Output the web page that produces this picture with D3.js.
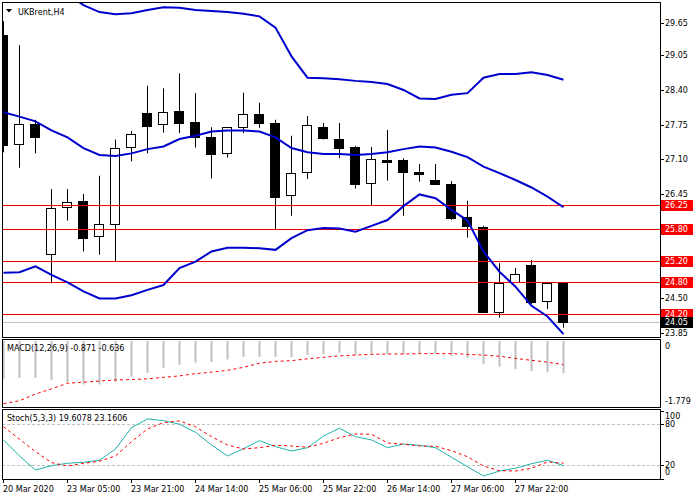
<!DOCTYPE html>
<html><head><meta charset="utf-8">
<script src="https://cdn.jsdelivr.net/npm/d3@7/dist/d3.min.js"></script>
<style>
body{margin:0;background:#fff;}
text{font-family:"DejaVu Sans",sans-serif;font-size:8px;}
</style>
</head><body>
<svg id="c" width="700" height="500"></svg>
<script>
// ---------- DATA ----------
const title = "UKBrent,H4";
const xLabels = ["20 Mar 2020","23 Mar 05:00","23 Mar 21:00","24 Mar 14:00","25 Mar 06:00","25 Mar 22:00","26 Mar 14:00","27 Mar 06:00","27 Mar 22:00"];
const openP  = [29.43,27.38,27.76,25.32,26.20,26.32,25.66,25.88,27.33,27.96,27.76,28.01,27.79,27.52,27.21,27.71,27.95,27.78,26.42,26.86,27.70,27.48,27.33,26.65,27.08,27.08,26.86,26.71,26.63,26.01,25.83,24.23,24.79,25.11,24.45,24.77];
const highP  = [29.69,29.24,27.84,26.54,26.54,26.45,26.79,27.47,27.63,28.48,28.43,28.71,28.34,27.70,27.70,28.35,28.16,27.84,27.54,27.91,27.78,27.78,27.35,27.33,27.65,27.12,27.01,27.01,26.69,26.32,25.85,25.15,25.06,25.21,24.77,24.79];
const lowP   = [27.23,26.94,27.21,24.77,25.95,25.37,25.31,25.19,27.06,27.21,27.60,27.59,27.32,26.74,27.13,27.59,27.69,25.79,26.04,26.73,27.47,27.12,26.55,26.24,26.70,26.04,26.68,26.64,25.96,25.63,24.22,24.13,24.78,24.38,24.29,23.94];
const closeP = [27.36,27.76,27.52,26.18,26.29,25.63,25.88,27.31,27.57,27.73,27.98,27.78,27.52,27.19,27.70,27.94,27.78,26.40,26.84,27.74,27.49,27.32,26.64,27.10,27.05,26.86,26.83,26.64,25.99,25.84,24.24,24.77,24.94,24.43,24.77,24.05];
const bbUpper  = [30.99,30.82,30.53,30.35,30.20,29.99,29.86,29.82,29.84,29.90,29.95,29.94,29.90,29.88,29.86,29.83,29.78,29.57,29.03,28.63,28.62,28.60,28.57,28.55,28.51,28.40,28.24,28.23,28.31,28.34,28.63,28.70,28.70,28.73,28.68,28.59];
const bbMiddle = [27.98,27.90,27.81,27.64,27.51,27.31,27.18,27.16,27.21,27.29,27.34,27.48,27.54,27.62,27.64,27.64,27.62,27.51,27.31,27.23,27.20,27.20,27.18,27.20,27.23,27.29,27.34,27.32,27.24,27.14,26.96,26.84,26.71,26.57,26.40,26.20];
const bbLower  = [24.97,24.98,25.09,24.93,24.79,24.62,24.49,24.49,24.55,24.65,24.74,25.06,25.18,25.37,25.44,25.44,25.43,25.40,25.62,25.77,25.81,25.80,25.74,25.85,25.96,26.22,26.44,26.37,26.15,25.95,25.37,24.99,24.71,24.35,24.15,23.82];
const priceTicks = [29.65,29.05,28.40,27.75,27.10,26.45,25.80,25.15,24.50,23.85];
const levelLines = [26.25,25.80,25.20,24.80,24.20];
const bidPrice = 24.05;
const macdLabel = "MACD(12,26,9) -0.871 -0.636";
const macdHist = [-1.03,-0.99,-0.99,-1.05,-1.11,-1.17,-1.17,-1.10,-0.96,-0.86,-0.72,-0.64,-0.58,-0.56,-0.50,-0.43,-0.43,-0.43,-0.44,-0.38,-0.35,-0.32,-0.38,-0.36,-0.36,-0.36,-0.34,-0.34,-0.41,-0.45,-0.62,-0.69,-0.76,-0.81,-0.84,-0.871];
const macdSignal = [-1.69,-1.61,-1.43,-1.29,-1.14,-1.11,-1.08,-1.05,-1.04,-1.02,-0.98,-0.94,-0.88,-0.84,-0.79,-0.71,-0.60,-0.55,-0.53,-0.48,-0.44,-0.40,-0.38,-0.36,-0.35,-0.35,-0.34,-0.34,-0.34,-0.36,-0.38,-0.41,-0.47,-0.52,-0.57,-0.636];
const macdTicks = ["0","-1.779"];
const stochLabel = "Stoch(5,3,3) 19.6078 23.1606";
const stochMain = [57.1,33.7,13.2,19.5,23.0,24.4,27.4,43.9,75.1,87.8,85.3,80.1,68.3,49.8,33.7,44.3,56.1,47.3,41.0,45.8,62.9,74.2,61.9,57.1,45.8,51.2,49.3,45.8,31.8,18.0,4.4,11.7,15.7,22.4,27.4,19.61];
const stochSignal = [76.5,58.1,40.0,23.9,19.0,23.0,25.9,33.7,54.6,73.2,82.4,84.9,76.5,61.9,49.8,43.9,45.8,49.3,48.3,46.4,52.2,60.4,65.9,65.4,52.7,50.8,48.3,47.9,41.4,32.6,19.0,12.1,11.7,15.7,24.9,23.16];
const stochLevels = [80,20];
const stochTicks = [100,80,20,0];

// ---------- LAYOUT ----------
const svg = d3.select("#c");
const PL = 2, PR = 660;
const main = {top:2, bottom:337};
const macdP = {top:339, bottom:407};
const stochP = {top:409, bottom:479};
const n = openP.length;
const x = d3.scaleLinear().domain([0, n-1]).range([3, 3 + 16*(n-1)]);
const y = d3.scaleLinear().domain([23.85, 29.65]).range([332.5, 23.3]);
const ym = d3.scaleLinear().domain([-1.779, 0]).range([407, 341]);
const ys = d3.scaleLinear().domain([0, 100]).range([479, 410.6]);
const BLUE = "#0000CD", RED = "#FF0000", TEAL = "#20B2AA", GRAY = "#C0C0C0";

const defs = svg.append("defs");
function clip(id, p){
  defs.append("clipPath").attr("id", id).append("rect")
    .attr("x", PL+1).attr("y", p.top+1).attr("width", PR-PL-1).attr("height", p.bottom-p.top-1);
}
clip("cm", main); clip("cmacd", macdP); clip("cst", stochP);

// ---------- MAIN PANEL ----------
const gm = svg.append("g").attr("clip-path", "url(#cm)");
// bid line
gm.append("line").attr("x1", PL).attr("x2", PR)
  .attr("y1", Math.round(y(bidPrice))+0.5).attr("y2", Math.round(y(bidPrice))+0.5)
  .attr("stroke", GRAY).attr("stroke-width", 1);
// candles
const cg = gm.append("g");
d3.range(n).forEach(i => {
  const cx = Math.round(x(i));
  const bull = closeP[i] >= openP[i];
  cg.append("line").attr("x1", cx+0.5).attr("x2", cx+0.5)
    .attr("y1", y(highP[i])).attr("y2", y(lowP[i]))
    .attr("stroke", "#000").attr("stroke-width", 1);
  const top = Math.round(y(Math.max(openP[i], closeP[i])));
  const bot = Math.round(y(Math.min(openP[i], closeP[i])));
  cg.append("rect").attr("x", cx-4.5).attr("y", top+0.5)
    .attr("width", 9).attr("height", Math.max(1, bot-top))
    .attr("fill", bull ? "#fff" : "#000").attr("stroke", "#000").attr("stroke-width", 1);
});
// level lines
levelLines.forEach(v => {
  const yy = Math.round(y(v))+0.5;
  gm.append("line").attr("x1", PL).attr("x2", PR).attr("y1", yy).attr("y2", yy)
    .attr("stroke", RED).attr("stroke-width", 1);
});
// bollinger bands
[bbUpper, bbMiddle, bbLower].forEach(arr => {
  gm.append("path").datum(arr)
    .attr("d", d3.line().x((d,i)=>x(i)+0.5).y(d=>y(d)))
    .attr("fill", "none").attr("stroke", BLUE).attr("stroke-width", 2);
});

// ---------- MACD PANEL ----------
const gmacd = svg.append("g").attr("clip-path", "url(#cmacd)");
gmacd.selectAll("rect.h").data(macdHist).enter().append("rect")
  .attr("x", (d,i)=>Math.round(x(i))-0.5).attr("width", 2)
  .attr("y", ym(0)).attr("height", d=>ym(d)-ym(0))
  .attr("fill", GRAY);
gmacd.append("path").datum(macdSignal)
  .attr("d", d3.line().x((d,i)=>x(i)+0.5).y(d=>ym(d)))
  .attr("fill", "none").attr("stroke", RED).attr("stroke-width", 1)
  .attr("stroke-dasharray", "3,3");

// ---------- STOCH PANEL ----------
const gst = svg.append("g").attr("clip-path", "url(#cst)");
stochLevels.forEach(v => {
  const yy = Math.round(ys(v))+0.5;
  gst.append("line").attr("x1", PL).attr("x2", PR).attr("y1", yy).attr("y2", yy)
    .attr("stroke", GRAY).attr("stroke-width", 1).attr("stroke-dasharray", "3,2");
});
gst.append("path").datum(stochMain)
  .attr("d", d3.line().x((d,i)=>x(i)+0.5).y(d=>ys(d)))
  .attr("fill", "none").attr("stroke", TEAL).attr("stroke-width", 1);
gst.append("path").datum(stochSignal)
  .attr("d", d3.line().x((d,i)=>x(i)+0.5).y(d=>ys(d)))
  .attr("fill", "none").attr("stroke", RED).attr("stroke-width", 1)
  .attr("stroke-dasharray", "3,3");

// ---------- FRAMES ----------
[main, macdP, stochP].forEach(p => {
  svg.append("rect").attr("x", PL+0.5).attr("y", p.top+0.5)
    .attr("width", PR-PL).attr("height", p.bottom-p.top)
    .attr("fill", "none").attr("stroke", "#000").attr("stroke-width", 1);
});

// ---------- RIGHT AXES ----------
const ax = svg.append("g");
priceTicks.forEach(v => {
  const yy = Math.round(y(v))+0.5;
  ax.append("line").attr("x1", PR+0.5).attr("x2", PR+4).attr("y1", yy).attr("y2", yy).attr("stroke", "#000");
  ax.append("text").attr("x", 665).attr("y", y(v)+3).text(v.toFixed(2)).attr("fill", "#000");
});
levelLines.forEach(v => {
  ax.append("rect").attr("x", 661).attr("y", Math.round(y(v))-5).attr("width", 32).attr("height", 11).attr("fill", RED);
  ax.append("text").attr("x", 665).attr("y", y(v)+3.5).text(v.toFixed(2)).attr("fill", "#fff");
});
ax.append("rect").attr("x", 661).attr("y", Math.round(y(bidPrice))-5).attr("width", 32).attr("height", 11).attr("fill", "#000");
ax.append("text").attr("x", 665).attr("y", y(bidPrice)+3.5).text(bidPrice.toFixed(2)).attr("fill", "#fff");

// MACD axis labels
ax.append("text").attr("x", 665).attr("y", ym(0)+8).text(macdTicks[0]);
ax.append("text").attr("x", 665).attr("y", ym(-1.779)-3.5).text(macdTicks[1]);
// Stoch axis labels
stochTicks.forEach(v => {
  let yy = ys(v)+3;
  if (v === 100) yy = ys(v)+8.5;
  if (v === 0) yy = ys(v)-4;
  ax.append("line").attr("x1", PR+0.5).attr("x2", PR+4).attr("y1", Math.round(ys(v))+0.5).attr("y2", Math.round(ys(v))+0.5).attr("stroke", "#000");
  ax.append("text").attr("x", 665).attr("y", yy).text(String(v));
});

// ---------- X AXIS ----------
xLabels.forEach((lab, k) => {
  const xx = Math.round(x(k*4));
  ax.append("line").attr("x1", xx+0.5).attr("x2", xx+0.5).attr("y1", stochP.bottom).attr("y2", stochP.bottom+4).attr("stroke", "#000");
  ax.append("text").attr("x", xx).attr("y", 492).text(lab);
});

// ---------- TITLES ----------
svg.append("path").attr("d", "M6,9 L12,9 L9,12.5 Z").attr("fill", "#000");
svg.append("text").attr("x", 18).attr("y", 14.5).text(title);
svg.append("text").attr("x", 7).attr("y", 351.3).text(macdLabel);
svg.append("text").attr("x", 7).attr("y", 421).text(stochLabel);
</script>
</body></html>
